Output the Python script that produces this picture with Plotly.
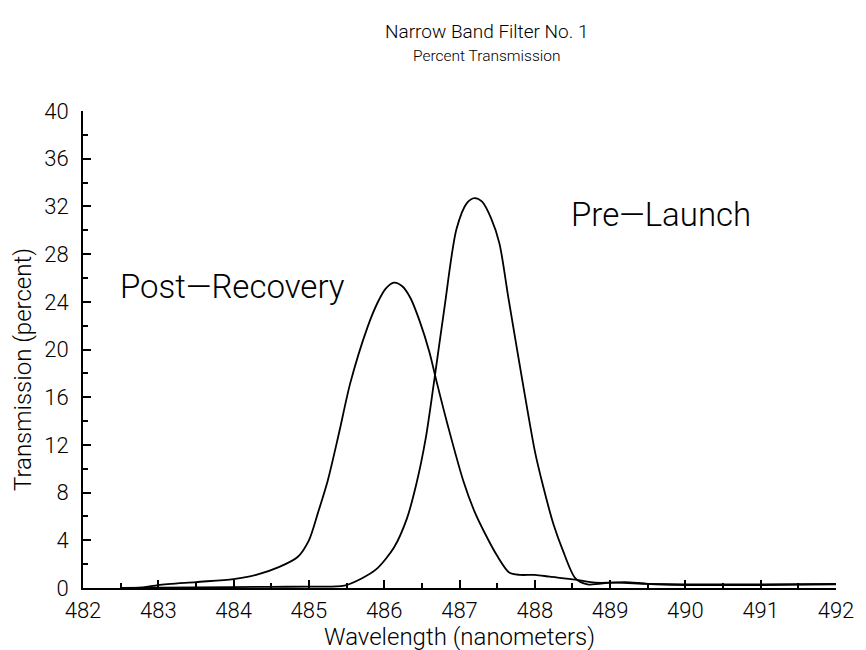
import plotly.graph_objects as go

# Data
post_wl = [482.5, 482.8, 483.0, 483.5, 484.0, 484.3, 484.6, 484.85, 485.0, 485.12,
           485.25, 485.4, 485.55, 485.78, 485.91, 486.02, 486.13, 486.24, 486.35, 486.47,
           486.6, 486.7, 486.85, 487.05, 487.2, 487.32, 487.5, 487.66, 487.8, 488.0,
           488.2, 488.54, 488.8, 489.1, 489.5, 490.0, 491.0, 492.0]
post_tr = [0.0, 0.05, 0.25, 0.5, 0.75, 1.1, 1.75, 2.6, 4.0, 6.3,
           9.0, 13.0, 17.2, 21.9, 23.9, 25.1, 25.6, 25.3, 24.3, 22.4,
           19.8, 17.2, 13.5, 9.0, 6.4, 4.8, 2.7, 1.3, 1.1, 1.1,
           0.95, 0.7, 0.45, 0.45, 0.35, 0.3, 0.3, 0.35]

pre_wl = [482.5, 483.5, 484.5, 485.0, 485.47, 485.7, 485.9, 486.13, 486.3, 486.43,
          486.55, 486.66, 486.8, 486.96, 487.1, 487.2, 487.3, 487.42, 487.53, 487.65,
          487.84, 488.0, 488.1, 488.25, 488.37, 488.54, 488.7, 489.0, 489.2, 489.5,
          490.0, 491.0, 492.0]
pre_tr = [0.0, 0.05, 0.1, 0.12, 0.2, 0.8, 1.6, 3.4, 5.8, 8.8,
          12.5, 17.2, 23.5, 30.1, 32.3, 32.7, 32.4, 31.0, 28.9, 24.3,
          17.2, 11.5, 8.8, 5.3, 3.2, 0.8, 0.3, 0.45, 0.5, 0.35,
          0.25, 0.25, 0.3]

x_ticks = [482, 483, 484, 485, 486, 487, 488, 489, 490, 491, 492]
y_ticks = [0, 4, 8, 12, 16, 20, 24, 28, 32, 36, 40]

FONT = "Roboto"
W = 300

fig = go.Figure()
fig.add_trace(go.Scatter(x=post_wl, y=post_tr, mode="lines", name="Post-Recovery",
                         line=dict(color="black", width=1.8, shape="spline", smoothing=0.8)))
fig.add_trace(go.Scatter(x=pre_wl, y=pre_tr, mode="lines", name="Pre-Launch",
                         line=dict(color="black", width=1.8, shape="spline", smoothing=0.8)))

fig.add_annotation(x=483.98, y=25.3, text="Post\u2014Recovery", showarrow=False,
                   font=dict(family=FONT, size=33, color="black", weight=W))
fig.add_annotation(x=489.68, y=31.3, text="Pre\u2014Launch", showarrow=False,
                   font=dict(family=FONT, size=33, color="black", weight=W))

# Titles
fig.add_annotation(xref="paper", yref="paper", x=0.5355, y=1.0, yshift=80, yanchor="middle",
                   text="Narrow Band Filter No. 1", showarrow=False,
                   font=dict(family=FONT, size=19, color="black", weight=W))
fig.add_annotation(xref="paper", yref="paper", x=0.5355, y=1.0, yshift=55, yanchor="middle",
                   text="Percent Transmission", showarrow=False,
                   font=dict(family=FONT, size=15.5, color="black", weight=W))

# Axis titles
fig.add_annotation(xref="paper", yref="paper", x=0.5, y=0.0, yshift=-49, yanchor="middle",
                   text="Wavelength (nanometers)", showarrow=False,
                   font=dict(family=FONT, size=24, color="black", weight=W))
fig.add_annotation(xref="paper", yref="paper", x=0.0, y=0.457, xshift=-60,
                   xanchor="center", yanchor="middle", textangle=-90,
                   text="Transmission (percent)", showarrow=False,
                   font=dict(family=FONT, size=24, color="black", weight=W))

fig.update_layout(
    width=858, height=642,
    margin=dict(l=75, r=23, t=103, b=62),
    plot_bgcolor="white", paper_bgcolor="white",
    showlegend=False,
    font=dict(family=FONT, color="black", weight=W),
    xaxis=dict(range=[482, 492], tickvals=x_ticks, ticks="inside", ticklen=8, tickwidth=2,
               tickcolor="black", showline=True, linewidth=2, linecolor="black",
               showgrid=False, zeroline=False, ticklabelstandoff=2,
               tickfont=dict(size=22, family=FONT, weight=W),
               minor=dict(dtick=0.5, ticks="inside", ticklen=5, tickwidth=1.5, tickcolor="black")),
    yaxis=dict(range=[0, 40], tickvals=y_ticks, ticks="inside", ticklen=8, tickwidth=2,
               tickcolor="black", showline=True, linewidth=2, linecolor="black",
               showgrid=False, zeroline=False, ticklabelstandoff=8,
               tickfont=dict(size=22, family=FONT, weight=W),
               minor=dict(dtick=2, ticks="inside", ticklen=5, tickwidth=1.5, tickcolor="black")),
)

fig.write_html("out.html")
